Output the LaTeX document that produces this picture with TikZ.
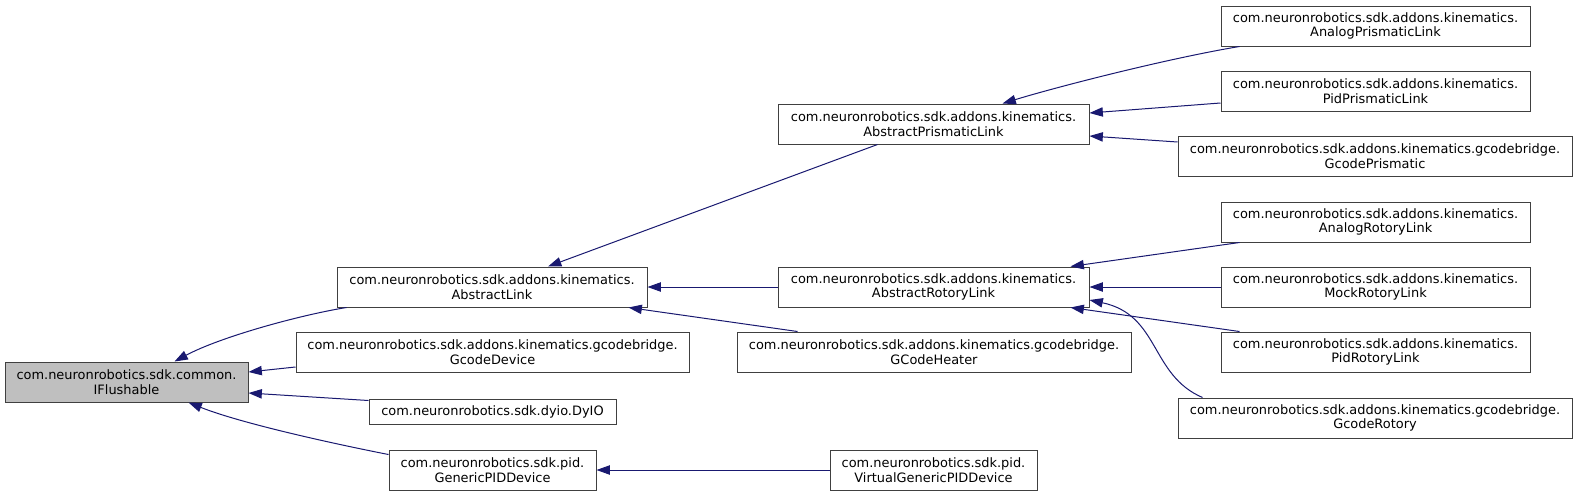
\documentclass[tikz,border=0pt]{standalone}
\usepackage{fontspec}
\setmainfont{DejaVu Sans}
\usetikzlibrary{arrows.meta,calc}
\definecolor{edgec}{HTML}{191970}
\definecolor{bordc}{HTML}{404040}
\definecolor{rootfill}{HTML}{BFBFBF}
\begin{document}
\begin{tikzpicture}[x=0.75pt,y=-0.75pt,
  cls/.style 2 args={draw=bordc, line width=0.75pt, fill=white, inner sep=0pt, align=center,
    minimum width=#1*0.75pt, minimum height=#2*0.75pt,
    font=\fontsize{9.7}{11}\selectfont, text=black},
  root/.style={fill=rootfill},
  edge/.style={draw=edgec, line width=0.75pt, -{Triangle[length=10pt,width=7pt]}}]
\useasboundingbox (0,0) rectangle (1577,496);

\node[cls={243}{40},root] (IF) at (126.5,382) {com.neuronrobotics.sdk.common.\\IFlushable};
\node[cls={310}{40}] (AL) at (492,287) {com.neuronrobotics.sdk.addons.kinematics.\\AbstractLink};
\node[cls={393}{40}] (GD) at (492.5,352) {com.neuronrobotics.sdk.addons.kinematics.gcodebridge.\\GcodeDevice};
\node[cls={247}{25}] (DY) at (492.5,411.5) {com.neuronrobotics.sdk.dyio.DyIO};
\node[cls={207}{40}] (GP) at (492.5,470) {com.neuronrobotics.sdk.pid.\\GenericPIDDevice};

\node[cls={311}{40}] (APL) at (933.5,124) {com.neuronrobotics.sdk.addons.kinematics.\\AbstractPrismaticLink};
\node[cls={311}{40}] (ARL) at (933.5,287) {com.neuronrobotics.sdk.addons.kinematics.\\AbstractRotoryLink};
\node[cls={394}{40}] (GH) at (934,352) {com.neuronrobotics.sdk.addons.kinematics.gcodebridge.\\GCodeHeater};
\node[cls={207}{40}] (VGP) at (933.5,470) {com.neuronrobotics.sdk.pid.\\VirtualGenericPIDDevice};

\node[cls={309}{40}] (APr) at (1375.5,26) {com.neuronrobotics.sdk.addons.kinematics.\\AnalogPrismaticLink};
\node[cls={309}{40}] (PPr) at (1375.5,91) {com.neuronrobotics.sdk.addons.kinematics.\\PidPrismaticLink};
\node[cls={394}{40}] (GPr) at (1375,156) {com.neuronrobotics.sdk.addons.kinematics.gcodebridge.\\GcodePrismatic};
\node[cls={309}{40}] (ARo) at (1375.5,222) {com.neuronrobotics.sdk.addons.kinematics.\\AnalogRotoryLink};
\node[cls={309}{40}] (MRo) at (1375.5,287) {com.neuronrobotics.sdk.addons.kinematics.\\MockRotoryLink};
\node[cls={309}{40}] (PRo) at (1375.5,352) {com.neuronrobotics.sdk.addons.kinematics.\\PidRotoryLink};
\node[cls={394}{40}] (GRo) at (1375,418) {com.neuronrobotics.sdk.addons.kinematics.gcodebridge.\\GcodeRotory};

\draw[edge] ($(AL.south west)+(10,0)$) .. controls (300,315) and (220,337) .. ($(IF.north)+(48,0)$);
\draw[edge] ($(GD.west)+(0,15)$) -- ($(IF.east)+(0,-10)$);
\draw[edge] ($(DY.north west)+(0,2)$) -- ($(IF.east)+(0,11)$);
\draw[edge] ($(GP.north west)+(0,5)$) .. controls (330,443) and (240,423) .. ($(IF.south)+(62,0)$);
\draw[edge] ($(APL.south west)+(100,0)$) -- ($(AL.north)+(56,0)$);
\draw[edge] (ARL.west) -- (AL.east);
\draw[edge] ($(GH.north west)+(61,0)$) -- ($(AL.south east)+(-19,0)$);
\draw[edge] ($(APr.south west)+(19,0)$) .. controls (1170,58) and (1060,86) .. ($(APL.north)+(69,0)$);
\draw[edge] ($(PPr.west)+(0,12)$) -- ($(APL.east)+(0,-11)$);
\draw[edge] ($(GPr.west)+(0,-14)$) -- ($(APL.east)+(0,12)$);
\draw[edge] ($(ARo.south west)+(19,0)$) -- ($(ARL.north east)+(-19,0)$);
\draw[edge] (MRo.west) -- (ARL.east);
\draw[edge] ($(PRo.north west)+(19,0)$) -- ($(ARL.south east)+(-19,0)$);
\draw[edge] ($(GRo.north west)+(25,0)$) .. controls (1150,375) and (1160,315) .. ($(ARL.east)+(0,13)$);
\draw[edge] (VGP.west) -- (GP.east);
\end{tikzpicture}
\end{document}
